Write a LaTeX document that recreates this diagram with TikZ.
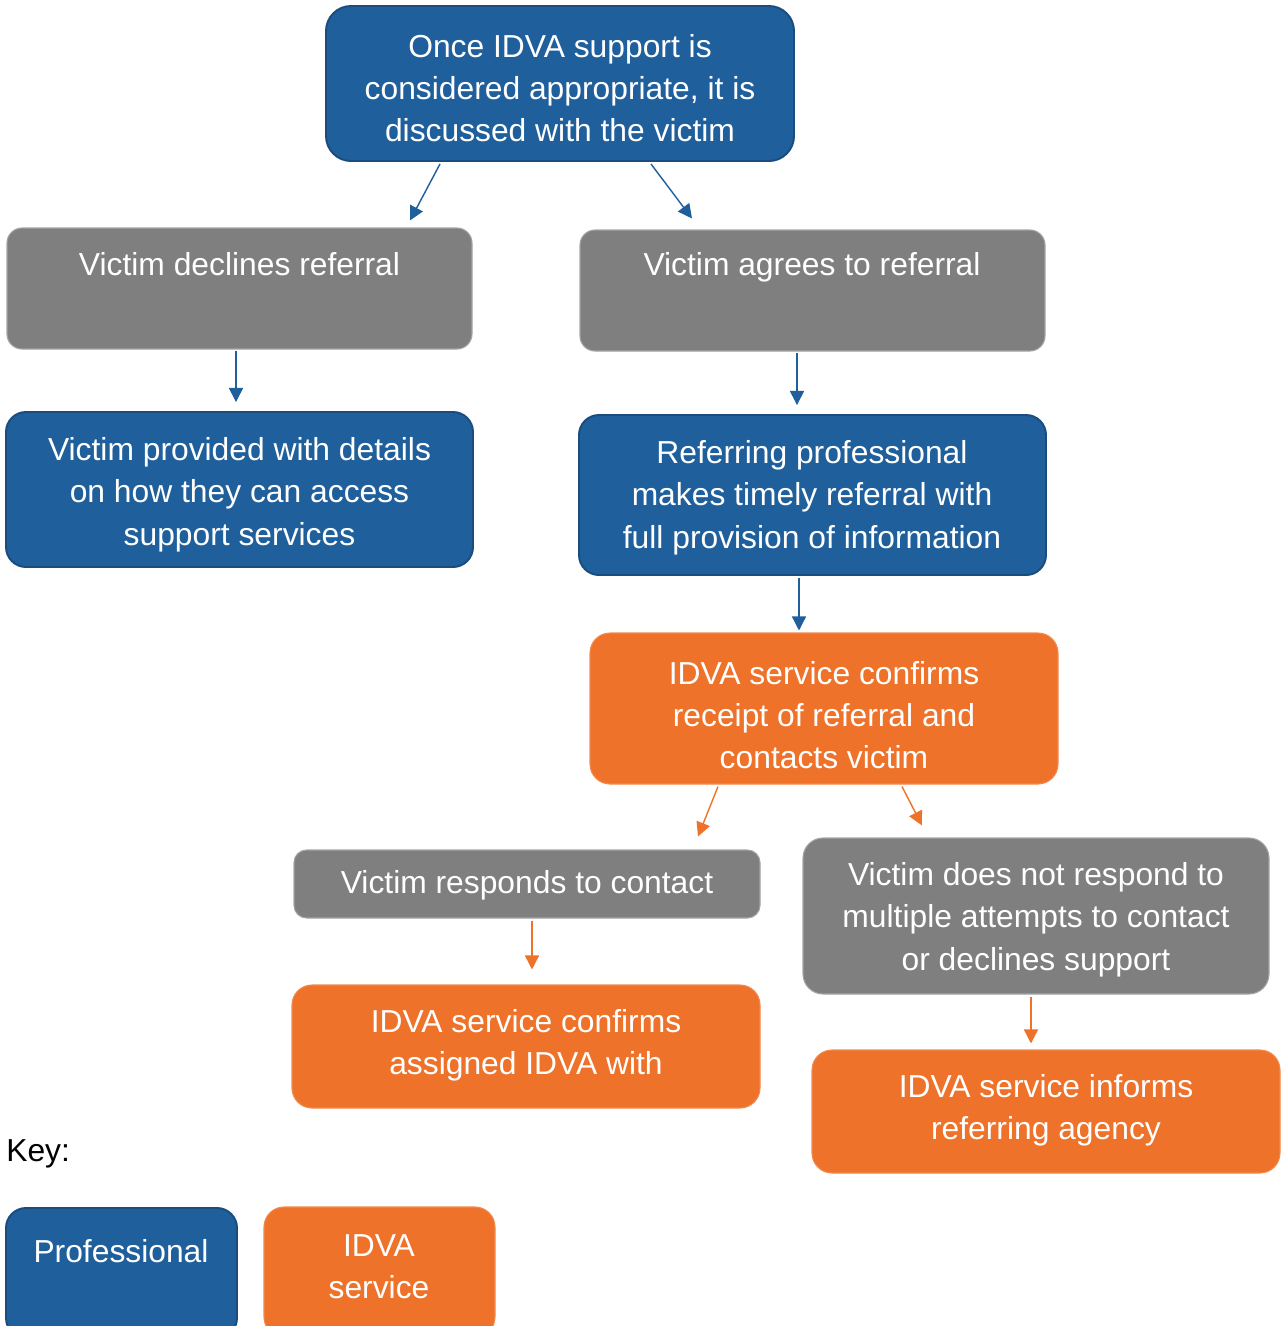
\documentclass[tikz,border=0pt]{standalone}
\usepackage{fontspec}
\setmainfont{Liberation Sans}
\usetikzlibrary{arrows.meta,calc}
\definecolor{pblue}{HTML}{1F5F9C}
\definecolor{pblueD}{HTML}{1A4C7E}
\definecolor{iorange}{HTML}{EE7229}
\definecolor{iorangeL}{HTML}{F28A4E}
\definecolor{vgray}{HTML}{7F7F7F}
\definecolor{vgrayL}{HTML}{A5A5A5}
\begin{document}
\begin{tikzpicture}[x=0.02cm,y=-0.02cm,
  sz/.style 2 args={minimum width=#1*0.02cm, minimum height=#2*0.02cm},
  box/.style={rectangle, rounded corners=0.4cm, inner sep=0pt},
  prof/.style={box, fill=pblue, draw=pblueD, line width=1.1pt},
  serv/.style={box, fill=iorange, draw=iorangeL, line width=0.6pt},
  vict/.style={box, fill=vgray, draw=vgrayL, line width=0.6pt},
  txt/.style={text=white, align=center, inner sep=0pt, font=\fontsize{18.1}{24.1}\selectfont},
  arrb/.style={draw=pblue, -{Triangle[length=8pt,width=8pt]}, line width=0.8pt},
  arro/.style={draw=iorange, -{Triangle[length=8pt,width=8pt]}, line width=0.8pt}
]
\useasboundingbox (0,0) rectangle (1284,1326);
\fill[white] (0,0) rectangle (1284,1326);

% boxes
\node[prof, sz={468}{155}, rounded corners=0.5cm] (top) at (560,83.5) {};
\node[vict, sz={465}{121}, rounded corners=0.3cm] (dec) at (239.5,288.5) {};
\node[vict, sz={465}{121}, rounded corners=0.3cm] (agr) at (812.5,290.5) {};
\node[prof, sz={467}{155}] (prov) at (239.5,489.5) {};
\node[prof, sz={467}{160}] (ref) at (812.5,495) {};
\node[serv, sz={468}{151}] (conf) at (824,708.5) {};
\node[vict, sz={466}{68}, rounded corners=0.25cm] (resp) at (527,884) {};
\node[vict, sz={466}{156}] (nores) at (1036,916) {};
\node[serv, sz={468}{123}] (assign) at (526,1046.5) {};
\node[serv, sz={468}{123}] (inf) at (1046,1111.5) {};
\node[prof, sz={231}{130}] (kprof) at (121.5,1273) {};
\node[serv, sz={231}{130}] (kserv) at (379.5,1272) {};

% texts
\node[txt] (ttop) at (560,88) {Once IDVA support is\\considered appropriate, it is\\discussed with the victim};
\node[txt] (tdec) at (239.5,264) {Victim declines referral};
\node[txt] (tagr) at (812,267) {Victim agrees to referral};
\node[txt] (tprov) at (239.5,494.5) {Victim provided with details\\on how they can access\\support services};
\node[txt] (tref) at (812,497.5) {Referring professional\\makes timely referral with\\full provision of information};
\node[txt] (tconf) at (824,715) {IDVA service confirms\\receipt of referral and\\contacts victim};
\node[txt] (tresp) at (527,885) {Victim responds to contact};
\node[txt] (tnores) at (1036,919.5) {Victim does not respond to\\multiple attempts to contact\\or declines support};
\node[txt] (tassign) at (526,1045) {IDVA service confirms\\assigned IDVA with};
\node[txt] (tinf) at (1046,1110.5) {IDVA service informs\\referring agency};
\node[txt, text=black, anchor=west] (tkey) at (6,1154) {Key:};
\node[txt] (tkprof) at (121,1251) {Professional};
\node[txt] (tkserv) at (379,1267) {IDVA\\service};

% connectors
\draw[arrb] ($(top.south)+(-120,2)$) -- ($(dec.north)+(170.5,-7)$);
\draw[arrb] ($(top.south)+(91,2)$) -- ($(agr.north)+(-120.5,-11)$);
\draw[arrb] ($(dec.south)+(-3.5,1)$) -- ($(prov.north)+(-3.5,-9)$);
\draw[arrb] ($(agr.south)+(-15.5,1)$) -- ($(ref.north)+(-15.5,-9)$);
\draw[arrb] ($(ref.south)+(-13.5,2)$) -- ($(conf.north)+(-25,-2)$);
\draw[arro] ($(conf.south)+(-106,2)$) -- ($(resp.north)+(171,-13)$);
\draw[arro] ($(conf.south)+(78,2)$) -- ($(nores.north)+(-114,-12)$);
\draw[arro] ($(resp.south)+(5,2)$) -- ($(assign.north)+(6,-15)$);
\draw[arro] ($(nores.south)+(-5,2)$) -- ($(inf.north)+(-15,-6)$);
\end{tikzpicture}
\end{document}
